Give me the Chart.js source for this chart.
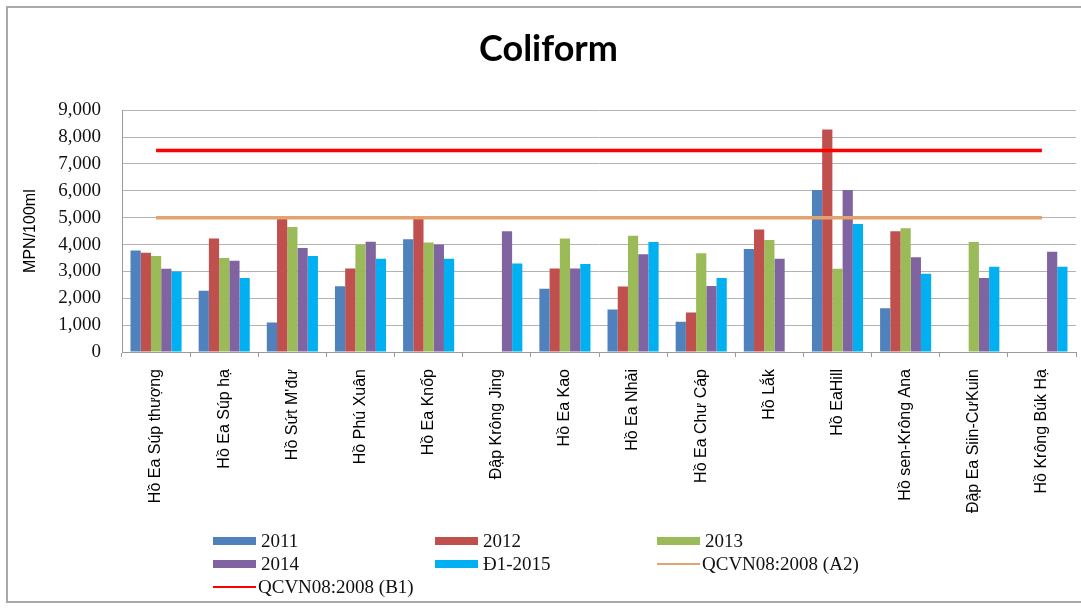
<!DOCTYPE html>
<html>
<head>
<meta charset="utf-8">
<script src="https://cdn.jsdelivr.net/npm/chart.js@4.4.1/dist/chart.umd.min.js"></script>
<style>
  html, body { margin: 0; padding: 0; background: #ffffff; }
  #wrap { position: relative; width: 1081px; height: 610px; overflow: hidden; background: #fff; }
  #chart { position: absolute; left: 0; top: 0; }
  #frame { position: absolute; left: 6px; top: 6px; width: 1090px; height: 597px; box-sizing: border-box;
           border: 2px solid #a9a9a9; pointer-events: none; }
  .lg { position: absolute; height: 22px; display: flex; align-items: center; white-space: nowrap;
        font-family: "Liberation Serif", serif; font-size: 19px; color: #111; }
  .sw { width: 43px; margin-right: 5px; }
</style>
</head>
<body>
<div id="wrap">
  <canvas id="chart" width="1081" height="610"></canvas>
  <div id="frame"></div>
  <div id="legend"></div>
</div>
<script>
// ---- data ----
const categories = [
  "Hồ Ea Súp thượng", "Hồ Ea Súp hạ", "Hồ Sứt M'đư", "Hồ Phú Xuân", "Hồ Ea Knốp",
  "Đập Krông Jing", "Hồ Ea Kao", "Hồ Ea Nhải", "Hồ Ea Chư Cáp", "Hồ Lắk",
  "Hồ EaHill", "Hồ sen-Krông Ana", "Đập Ea Siin-CưKuin", "Hồ Krông Búk Hạ"
];
const seriesNames = ["2011", "2012", "2013", "2014", "Đ1-2015", "QCVN08:2008 (A2)", "QCVN08:2008 (B1)"];
const v2011 = [3780, 2280, 1100, 2450, 4200, null, 2350, 1580, 1130, 3830, 6030, 1630, null, null];
const v2012 = [3690, 4220, 5000, 3110, 4980, null, 3110, 2440, 1470, 4560, 8280, 4490, null, null];
const v2013 = [3570, 3500, 4650, 4000, 4080, null, 4220, 4330, 3680, 4170, 3100, 4610, 4090, null];
const v2014 = [3100, 3400, 3870, 4100, 4000, 4490, 3110, 3640, 2460, 3470, 6030, 3530, 2750, 3730];
const v2015 = [3000, 2750, 3570, 3470, 3470, 3290, 3280, 4090, 2750, null, 4760, 2910, 3170, 3170];
const qcvnA2 = [5000, 5000, 5000, 5000, 5000, 5000, 5000, 5000, 5000, 5000, 5000, 5000, 5000, 5000];
const qcvnB1 = [7500, 7500, 7500, 7500, 7500, 7500, 7500, 7500, 7500, 7500, 7500, 7500, 7500, 7500];
const yMin = 0, yMax = 9000, yStep = 1000;

const colors = ["#4F81BD", "#C0504D", "#9BBB59", "#8064A2", "#00B0F0", "#E3A36F", "#FF0000"];

const barSeries = [v2011, v2012, v2013, v2014, v2015];
const datasets = barSeries.map((d, i) => ({
  type: 'bar', label: seriesNames[i], data: d, backgroundColor: colors[i],
  borderWidth: 0, categoryPercentage: 0.75, barPercentage: 1.0, order: 2
}));
[qcvnA2, qcvnB1].forEach((d, j) => {
  datasets.push({
    type: 'line', label: seriesNames[5 + j], data: d, borderColor: colors[5 + j],
    backgroundColor: colors[5 + j], borderWidth: 3.5, pointRadius: 0, fill: false, order: 0
  });
});

const chart = new Chart(document.getElementById('chart'), {
  type: 'bar',
  data: { labels: categories, datasets },
  options: {
    responsive: false,
    animation: false,
    layout: { padding: { left: 21, right: 5, top: 10, bottom: 85 } },
    plugins: {
      legend: { display: false },
      tooltip: { enabled: false },
      title: {
        display: true, text: 'Coliform', color: '#000',
        font: { family: 'Lato', size: 36, weight: 'bold' },
        padding: { top: 18, bottom: 39 }
      }
    },
    scales: {
      x: {
        grid: { display: true, offset: true, drawOnChartArea: false, drawTicks: true, tickLength: 5, color: '#9a9a9a' },
        border: { display: true, color: '#9a9a9a' },
        ticks: {
          autoSkip: false, minRotation: 90, maxRotation: 90, padding: 12, color: '#000',
          font: { family: 'Liberation Sans', size: 16 }
        },
        afterFit: (s) => { s.height = 173; }
      },
      y: {
        min: yMin, max: yMax,
        ticks: {
          stepSize: yStep, padding: 21, color: '#111',
          font: { family: 'Liberation Serif', size: 19 },
          callback: (v) => Number(v).toLocaleString('en-US')
        },
        grid: { color: '#b3b3b3', drawTicks: false },
        border: { display: true, color: '#9a9a9a' },
        title: {
          display: true, text: 'MPN/100ml', color: '#000', padding: 0,
          font: { family: 'Liberation Sans', size: 16 }
        },
        afterFit: (s) => { s.width = 101; }
      }
    }
  }
});

// ---- legend (3 columns, built from the chart's datasets) ----
const lg = document.getElementById('legend');
const colX = [213, 435, 657];
const rowY = [530, 553, 576];
chart.data.datasets.forEach((ds, i) => {
  const el = document.createElement('div');
  el.className = 'lg';
  el.style.left = colX[i % 3] + 'px';
  el.style.top = rowY[Math.floor(i / 3)] + 'px';
  const sw = document.createElement('span');
  sw.className = 'sw';
  if (ds.type === 'line') {
    sw.style.height = '2px'; sw.style.background = ds.borderColor; sw.style.marginRight = '2px';
  } else {
    sw.style.height = '8px'; sw.style.background = ds.backgroundColor;
  }
  const tx = document.createElement('span');
  tx.textContent = ds.label;
  el.appendChild(sw); el.appendChild(tx);
  lg.appendChild(el);
});
</script>
</body>
</html>
